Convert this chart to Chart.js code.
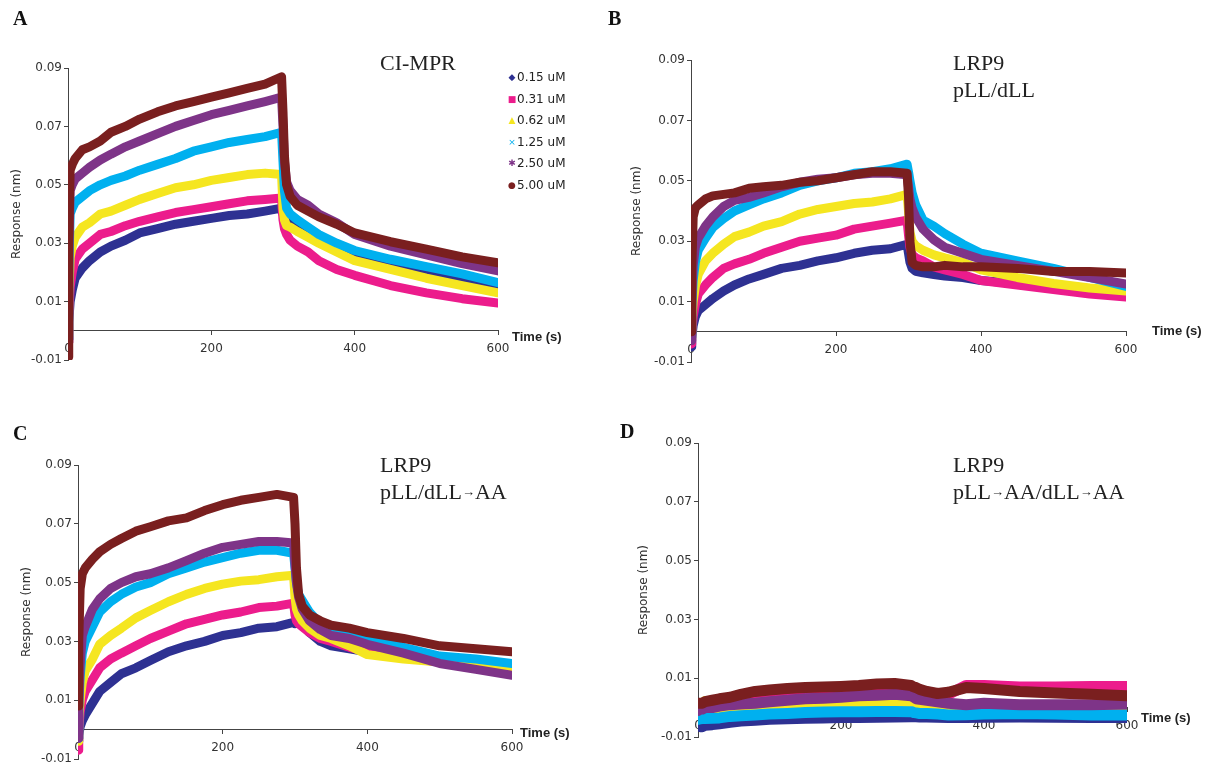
<!DOCTYPE html>
<html>
<head>
<meta charset="utf-8">
<script src="https://cdn.jsdelivr.net/npm/chart.js@4.4.0/dist/chart.umd.min.js"></script>
<style>
  body { margin: 0; background: #fff; width: 1214px; height: 766px; position: relative; overflow: hidden; }
  canvas { position: absolute; }
  .letter { position: absolute; font: bold 20px 'Liberation Serif'; line-height: 20px; color: #111; }
  .title { position: absolute; font: 22px 'Liberation Serif'; line-height: 27px; color: #222; white-space: nowrap; }
  .title .arr { font-size: 13px; vertical-align: 3px; }
  .tlabel { position: absolute; font: bold 13px 'Liberation Sans'; line-height: 14px; color: #222; white-space: nowrap; }
  .leg { position: absolute; font: 12px 'DejaVu Sans'; line-height: 14px; color: #222; white-space: nowrap; }
  .leg span { display: inline-block; width: 10px; text-align: center; font-size: 9px; vertical-align: 1px; }
</style>
</head>
<body>
<canvas id="chartA"></canvas>
<canvas id="chartB"></canvas>
<canvas id="chartC"></canvas>
<canvas id="chartD"></canvas>

<div class="letter" style="left:13px;top:8px">A</div>
<div class="letter" style="left:608px;top:8px">B</div>
<div class="letter" style="left:13px;top:423px">C</div>
<div class="letter" style="left:620px;top:421px">D</div>

<div class="title" style="left:380px;top:49px">CI-MPR</div>
<div class="title" style="left:953px;top:49px">LRP9<br>pLL/dLL</div>
<div class="title" style="left:380px;top:451px">LRP9<br>pLL/dLL<span class="arr">→</span>AA</div>
<div class="title" style="left:953px;top:451px">LRP9<br>pLL<span class="arr">→</span>AA/dLL<span class="arr">→</span>AA</div>

<div class="tlabel" style="left:512px;top:330px">Time (s)</div>
<div class="tlabel" style="left:1152px;top:324px">Time (s)</div>
<div class="tlabel" style="left:520px;top:726px">Time (s)</div>
<div class="tlabel" style="left:1141px;top:711px">Time (s)</div>

<div id="legend"></div>

<script>
// time points (s)
const T = [0, 1, 3, 6, 10, 20, 30, 45, 60, 80, 100, 125, 150, 175, 200, 225, 250, 275, 298,
           300, 302, 305, 310, 320, 335, 350, 375, 400, 450, 500, 550, 600];

const CONC = ['0.15 uM', '0.31 uM', '0.62 uM', '1.25 uM', '2.50 uM', '5.00 uM'];
const COLORS = ['#2E3192', '#EC1C8C', '#F5E620', '#00B0EF', '#7E3488', '#7A1F1F'];
const MARKS = ['◆', '■', '▲', '×', '✱', '●'];
const Y_TICKS = [-0.01, 0.01, 0.03, 0.05, 0.07, 0.09];
const X_TICKS = [0, 200, 400, 600];

// A: CI-MPR
const a015 = [-0.003, 0.003, 0.010, 0.014, 0.018, 0.0215, 0.024, 0.027, 0.029, 0.031, 0.0335, 0.035, 0.0365, 0.0375, 0.0385, 0.0395, 0.040, 0.041, 0.042,
              0.040, 0.039, 0.038, 0.037, 0.0355, 0.034, 0.032, 0.029, 0.026, 0.023, 0.020, 0.018, 0.0158];
const a031 = [-0.004, 0.005, 0.015, 0.020, 0.0245, 0.028, 0.030, 0.033, 0.034, 0.036, 0.0375, 0.039, 0.0405, 0.0415, 0.0425, 0.0435, 0.0445, 0.045, 0.0455,
              0.038, 0.035, 0.033, 0.031, 0.029, 0.027, 0.024, 0.021, 0.019, 0.0155, 0.013, 0.011, 0.0095];
const a062 = [-0.002, 0.012, 0.025, 0.029, 0.032, 0.0355, 0.037, 0.040, 0.041, 0.043, 0.045, 0.047, 0.049, 0.050, 0.0515, 0.0525, 0.0535, 0.054, 0.0535,
              0.042, 0.038, 0.036, 0.0355, 0.034, 0.032, 0.030, 0.027, 0.024, 0.021, 0.018, 0.0155, 0.013];
const a125 = [-0.003, 0.020, 0.040, 0.042, 0.044, 0.046, 0.048, 0.050, 0.0515, 0.053, 0.055, 0.057, 0.059, 0.0615, 0.063, 0.0645, 0.0655, 0.0665, 0.068,
              0.058, 0.048, 0.042, 0.040, 0.038, 0.0355, 0.033, 0.030, 0.0275, 0.0245, 0.022, 0.0195, 0.0165];
const a250 = [-0.004, 0.025, 0.048, 0.050, 0.052, 0.054, 0.056, 0.0585, 0.0605, 0.063, 0.065, 0.0675, 0.070, 0.072, 0.074, 0.0755, 0.077, 0.0785, 0.080,
              0.070, 0.058, 0.051, 0.048, 0.045, 0.043, 0.040, 0.037, 0.033, 0.029, 0.026, 0.023, 0.0205];
const a500 = [-0.009, 0.030, 0.055, 0.057, 0.059, 0.062, 0.063, 0.065, 0.068, 0.070, 0.0725, 0.075, 0.077, 0.0785, 0.080, 0.0815, 0.083, 0.0845, 0.087,
              0.075, 0.060, 0.050, 0.046, 0.043, 0.041, 0.039, 0.0365, 0.0335, 0.0305, 0.028, 0.0253, 0.0233];

// B: LRP9 pLL/dLL
const b015 = [-0.005, -0.002, 0.002, 0.005, 0.007, 0.009, 0.011, 0.0135, 0.0155, 0.0175, 0.019, 0.021, 0.022, 0.0235, 0.0245, 0.026, 0.027, 0.0275, 0.029,
              0.026, 0.023, 0.021, 0.020, 0.0195, 0.019, 0.0185, 0.018, 0.017, 0.016, 0.015, 0.014, 0.013];
const b031 = [-0.004, 0.000, 0.005, 0.009, 0.0125, 0.0155, 0.018, 0.021, 0.0225, 0.024, 0.026, 0.028, 0.030, 0.031, 0.032, 0.034, 0.035, 0.036, 0.037,
              0.032, 0.028, 0.0255, 0.0245, 0.0235, 0.0215, 0.0205, 0.019, 0.017, 0.0155, 0.014, 0.0125, 0.0115];
const b062 = [-0.002, 0.004, 0.010, 0.015, 0.019, 0.0235, 0.026, 0.029, 0.0315, 0.033, 0.035, 0.0365, 0.039, 0.0405, 0.0415, 0.0425, 0.043, 0.044, 0.0455,
              0.040, 0.033, 0.030, 0.0285, 0.027, 0.0255, 0.0245, 0.023, 0.0205, 0.018, 0.016, 0.0145, 0.0135];
const b125 = [-0.002, 0.008, 0.017, 0.023, 0.027, 0.031, 0.0345, 0.0375, 0.040, 0.042, 0.044, 0.046, 0.0485, 0.050, 0.051, 0.0525, 0.053, 0.054, 0.0555,
              0.053, 0.050, 0.046, 0.042, 0.037, 0.035, 0.0325, 0.029, 0.026, 0.0235, 0.021, 0.018, 0.015];
const b250 = [-0.003, 0.010, 0.022, 0.028, 0.031, 0.035, 0.038, 0.0415, 0.0435, 0.0445, 0.046, 0.048, 0.0495, 0.0505, 0.051, 0.052, 0.0525, 0.0525, 0.052,
              0.048, 0.044, 0.041, 0.038, 0.034, 0.0305, 0.028, 0.026, 0.024, 0.022, 0.020, 0.018, 0.0158];
const b500 = [0.000, 0.020, 0.038, 0.041, 0.042, 0.044, 0.045, 0.0455, 0.046, 0.0475, 0.048, 0.0485, 0.0495, 0.050, 0.051, 0.052, 0.053, 0.053, 0.0525,
              0.045, 0.030, 0.023, 0.022, 0.0215, 0.0215, 0.022, 0.0215, 0.0215, 0.021, 0.020, 0.020, 0.0195];

// C: LRP9 pLL/dLL->AA
const c015 = [-0.004, -0.002, 0.001, 0.003, 0.005, 0.009, 0.013, 0.016, 0.019, 0.021, 0.0235, 0.0265, 0.0285, 0.030, 0.032, 0.033, 0.0345, 0.035, 0.0365,
              0.036, 0.0375, 0.037, 0.036, 0.033, 0.030, 0.0285, 0.0275, 0.0265, 0.0245, 0.0235, 0.0225, 0.022];
const c031 = [-0.007, 0.000, 0.006, 0.010, 0.013, 0.017, 0.021, 0.024, 0.026, 0.0285, 0.031, 0.0335, 0.036, 0.0375, 0.039, 0.040, 0.0415, 0.042, 0.043,
              0.039, 0.037, 0.036, 0.035, 0.033, 0.031, 0.030, 0.028, 0.0265, 0.0245, 0.023, 0.022, 0.021];
const c062 = [-0.004, 0.004, 0.010, 0.016, 0.020, 0.024, 0.029, 0.032, 0.0345, 0.038, 0.0405, 0.0435, 0.046, 0.048, 0.0495, 0.0505, 0.051, 0.052, 0.0525,
              0.045, 0.041, 0.039, 0.037, 0.0345, 0.032, 0.031, 0.0285, 0.0255, 0.024, 0.023, 0.022, 0.0215];
const c125 = [-0.003, 0.008, 0.018, 0.026, 0.030, 0.035, 0.040, 0.0435, 0.046, 0.0485, 0.050, 0.053, 0.055, 0.057, 0.0585, 0.060, 0.061, 0.061, 0.060,
              0.055, 0.050, 0.046, 0.044, 0.040, 0.036, 0.034, 0.032, 0.0305, 0.028, 0.025, 0.024, 0.0225];
const c250 = [-0.003, 0.010, 0.022, 0.032, 0.035, 0.041, 0.0445, 0.048, 0.050, 0.052, 0.053, 0.055, 0.0575, 0.060, 0.062, 0.063, 0.064, 0.064, 0.0635,
              0.056, 0.050, 0.045, 0.041, 0.037, 0.034, 0.032, 0.031, 0.029, 0.026, 0.0225, 0.0205, 0.0185];
const c500 = [0.008, 0.030, 0.048, 0.053, 0.055, 0.058, 0.0605, 0.063, 0.065, 0.0675, 0.069, 0.071, 0.072, 0.0745, 0.0765, 0.078, 0.079, 0.080, 0.079,
              0.070, 0.055, 0.046, 0.042, 0.039, 0.037, 0.0355, 0.0345, 0.033, 0.031, 0.0285, 0.0275, 0.0265];

// D: LRP9 pLL->AA/dLL->AA
const d015 = [-0.005, -0.006, -0.0065, -0.0065, -0.006, -0.0058, -0.0055, -0.005, -0.0046, -0.0043, -0.004, -0.0038, -0.0036, -0.0035, -0.0034, -0.0034, -0.0033, -0.0032, -0.0031,
              -0.0031, -0.0031, -0.0031, -0.0032, -0.0032, -0.0033, -0.0034, -0.0034, -0.0033, -0.0032, -0.0033, -0.0034, -0.0034];
const d031 = [0.000, 0.000, 0.0005, 0.0008, 0.001, 0.0012, 0.0015, 0.0018, 0.002, 0.0025, 0.003, 0.0035, 0.004, 0.0042, 0.0045, 0.0048, 0.005, 0.005, 0.005,
              0.0045, 0.0042, 0.004, 0.004, 0.004, 0.004, 0.0045, 0.0075, 0.0075, 0.007, 0.007, 0.0072, 0.0072];
const d062 = [-0.001, 0.000, 0.001, 0.0012, 0.002, 0.000, -0.0005, -0.0005, -0.0002, -0.0002, 0.000, 0.0008, 0.0012, 0.0015, 0.0018, 0.002, 0.002, 0.002, 0.0015,
              0.0012, 0.001, 0.000, -0.0005, -0.0008, -0.0008, -0.0008, -0.0008, -0.0006, -0.0005, -0.0005, -0.0004, -0.0004];
const d125 = [-0.004, -0.004, -0.0038, -0.0037, -0.0037, -0.0036, -0.0035, -0.003, -0.0028, -0.0025, -0.0022, -0.002, -0.0017, -0.0015, -0.0014, -0.0014, -0.0013, -0.0013, -0.0014,
              -0.0015, -0.0017, -0.0018, -0.002, -0.002, -0.0022, -0.0025, -0.0024, -0.0022, -0.002, -0.0022, -0.0025, -0.0025];
const d250 = [-0.001, -0.001, -0.0005, -0.0005, 0.000, 0.000, 0.0005, 0.001, 0.0012, 0.0015, 0.002, 0.0025, 0.003, 0.0032, 0.0035, 0.004, 0.0042, 0.0045, 0.004,
              0.0038, 0.0035, 0.003, 0.0028, 0.0025, 0.002, 0.0015, 0.001, 0.0015, 0.001, 0.001, 0.001, 0.0012];
const d500 = [0.0015, 0.0015, 0.0015, 0.0015, 0.002, 0.0025, 0.003, 0.0035, 0.0045, 0.0055, 0.006, 0.0065, 0.0068, 0.007, 0.0072, 0.0075, 0.008, 0.0082, 0.0075,
              0.0072, 0.007, 0.0068, 0.0062, 0.0055, 0.0048, 0.0052, 0.0068, 0.0065, 0.0055, 0.005, 0.0045, 0.004];

const axisColor = '#444';
const tickFont = { family: 'DejaVu Sans', size: 12 };

// Build one sensorgram panel; box = canvas rect, plot = chart area rect (page px)
function makePanel(id, series, box, plot, yW, lineW) {
    const cv = document.getElementById(id);
    cv.width = box.w;
    cv.height = box.h;
    cv.style.left = box.x + 'px';
    cv.style.top = box.y + 'px';

    return new Chart(cv.getContext('2d'), {
        type: 'line',
        data: {
            datasets: series.map((vals, i) => ({
                label: CONC[i],
                data: T.map((t, j) => ({ x: t, y: vals[j] })),
                borderColor: COLORS[i],
                backgroundColor: COLORS[i],
                borderWidth: lineW,
                pointRadius: 0,
                tension: 0,
                borderJoinStyle: 'round',
                borderCapStyle: 'round',
                order: series.length - i // highest concentration drawn last
            }))
        },
        options: {
            responsive: false,
            animation: false,
            devicePixelRatio: 1,
            layout: {
                padding: {
                    left: plot.l - box.x - yW,
                    right: box.x + box.w - plot.r,
                    top: plot.t - box.y,
                    bottom: box.y + box.h - plot.b
                }
            },
            plugins: {
                legend: { display: false },
                tooltip: { enabled: false }
            },
            scales: {
                x: {
                    type: 'linear',
                    min: 0,
                    max: 600,
                    position: { y: 0 },
                    afterFit: s => { s.height = 0; },
                    afterBuildTicks: s => { s.ticks = X_TICKS.map(v => ({ value: v })); },
                    grid: { drawOnChartArea: false, drawTicks: true, tickLength: 4, color: axisColor },
                    border: { display: true, color: axisColor, width: 1 },
                    ticks: { font: tickFont, color: '#333', padding: 7, maxRotation: 0 }
                },
                y: {
                    type: 'linear',
                    min: -0.01,
                    max: 0.09,
                    afterFit: s => { s.width = yW; },
                    afterBuildTicks: s => { s.ticks = Y_TICKS.map(v => ({ value: v })); },
                    grid: { drawOnChartArea: false, drawTicks: true, tickLength: 4, color: axisColor },
                    border: { display: true, color: axisColor, width: 1 },
                    ticks: {
                        font: tickFont,
                        color: '#333',
                        padding: 2,
                        callback: v => v.toFixed(2)
                    },
                    title: {
                        display: true,
                        text: 'Response (nm)',
                        font: { family: 'DejaVu Sans', size: 12 },
                        color: '#333'
                    }
                }
            }
        }
    });
}

makePanel('chartA', [a015, a031, a062, a125, a250, a500],
    { x: 0, y: 0, w: 600, h: 383 }, { l: 68, r: 498, t: 68, b: 360 }, 62, 9);
makePanel('chartB', [b015, b031, b062, b125, b250, b500],
    { x: 600, y: 0, w: 614, h: 383 }, { l: 691, r: 1126, t: 60, b: 362 }, 65, 9);
makePanel('chartC', [c015, c031, c062, c125, c250, c500],
    { x: 0, y: 400, w: 600, h: 380 }, { l: 78, r: 512, t: 465, b: 759 }, 62, 9);
makePanel('chartD', [d015, d031, d062, d125, d250, d500],
    { x: 600, y: 400, w: 614, h: 380 }, { l: 698, r: 1127, t: 443, b: 737 }, 65, 11);

// legend for panel A
const legend = document.getElementById('legend');
CONC.forEach((c, i) => {
    const row = document.createElement('div');
    row.className = 'leg';
    row.style.left = '507px';
    row.style.top = (70 + i * 21.5) + 'px';
    row.innerHTML = '<span style="color:' + COLORS[i] + '">' + MARKS[i] + '</span>' + c;
    legend.appendChild(row);
});
</script>
</body>
</html>
